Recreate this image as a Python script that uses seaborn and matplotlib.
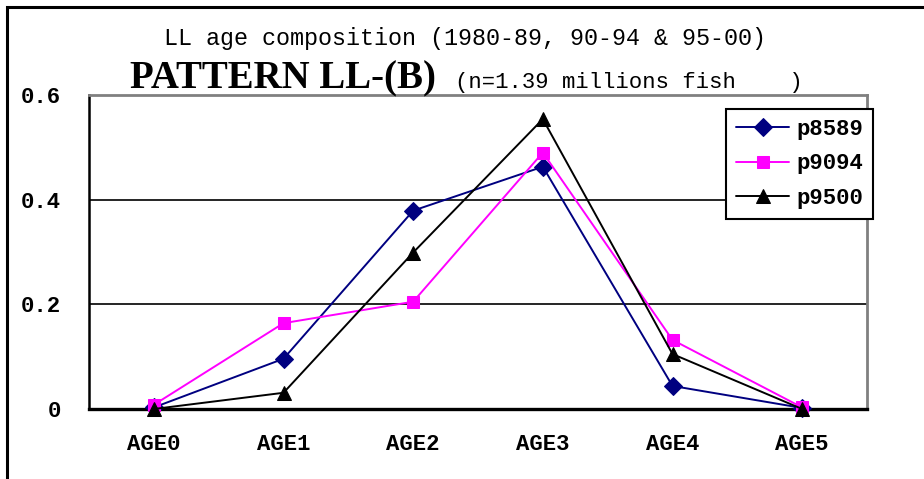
import matplotlib
matplotlib.use("Agg")
import matplotlib.pyplot as plt
from matplotlib.patches import Rectangle
import numpy as np
import pandas as pd
import seaborn as sns

# Age classes and the share of catch in each, per period
ages = ["AGE0", "AGE1", "AGE2", "AGE3", "AGE4", "AGE5"]
p8589 = [0.003, 0.096, 0.379, 0.463, 0.044, 0.002]
p9094 = [0.008, 0.164, 0.205, 0.490, 0.132, 0.003]
p9500 = [0.000, 0.031, 0.299, 0.554, 0.105, 0.000]
series_names = ["p8589", "p9094", "p9500"]
y_ticks = [0, 0.2, 0.4, 0.6]

df = pd.DataFrame({
    "pos": list(range(len(ages))) * 3,
    "share": p8589 + p9094 + p9500,
    "period": [n for n in series_names for _ in ages],
})

sns.set_style("white")
plt.rcParams["text.color"] = "black"
plt.rcParams["xtick.labelcolor"] = "black"
plt.rcParams["ytick.labelcolor"] = "black"
mono = ["Liberation Mono", "DejaVu Sans Mono"]
serif = ["Liberation Serif", "DejaVu Serif"]

fig = plt.figure(figsize=(9.24, 4.79), dpi=100)
ax = fig.add_axes([89 / 924, 1 - 409 / 479, (867 - 89) / 924, (409 - 95) / 479])

palette = {"p8589": "#000080", "p9094": "#FF00FF", "p9500": "#000000"}
markers = {"p8589": "D", "p9094": "s", "p9500": "^"}
sizes = {"p8589": 9, "p9094": 8, "p9500": 10}

for name in series_names:
    sub = df[df["period"] == name]
    sns.lineplot(data=sub, x="pos", y="share", ax=ax, color=palette[name],
                 marker=markers[name], markersize=sizes[name],
                 markeredgecolor=palette[name], markerfacecolor=palette[name],
                 linewidth=1.4, label=name, zorder=3, clip_on=False)

ax.set_xlim(-0.5, len(ages) - 0.5)
ax.set_ylim(0, 0.6)
ax.set_xlabel("")
ax.set_ylabel("")

# category boundaries carry the tick marks, centres carry the labels
ax.set_xticks(np.arange(-0.5, len(ages)), labels=[""] * (len(ages) + 1))
ax.set_xticks(np.arange(len(ages)), labels=ages, minor=True)
ax.tick_params(axis="x", which="major", direction="inout", length=16, width=1.5, color="black")
ax.tick_params(axis="x", which="minor", length=0, pad=18)
ax.set_yticks(y_ticks, labels=["0" if v == 0 else f"{v:.1f}" for v in y_ticks])
ax.tick_params(axis="y", direction="out", length=8, width=1.5, color="black", pad=12)
for lab in ax.get_xticklabels(minor=True) + ax.get_yticklabels():
    lab.set_fontfamily(mono)
    lab.set_fontweight("bold")
    lab.set_fontsize(16)
    lab.set_color("black")

for v in y_ticks[1:-1]:
    ax.axhline(v, color="black", linewidth=1.2, zorder=1)

ax.spines["left"].set_color("black")
ax.spines["left"].set_linewidth(1.8)
ax.spines["bottom"].set_color("black")
ax.spines["bottom"].set_linewidth(2.4)
ax.spines["top"].set_color("#808080")
ax.spines["top"].set_linewidth(2)
ax.spines["right"].set_color("#808080")
ax.spines["right"].set_linewidth(2)

leg = ax.legend(loc="upper left", bbox_to_anchor=(726 / 924, 1 - 109 / 479),
                bbox_transform=fig.transFigure, frameon=True, fancybox=False,
                handlelength=2.4, handletextpad=0.3, labelspacing=0.6,
                borderpad=0.45, borderaxespad=0,
                prop={"family": mono, "weight": "bold", "size": 16})
leg.get_frame().set_edgecolor("black")
leg.get_frame().set_linewidth(1.5)
leg.get_frame().set_facecolor("white")
leg.get_frame().set_alpha(1)
leg.set_zorder(10)
for t in leg.get_texts():
    t.set_color("black")

fig.text(0.503, 1 - 45 / 479, "LL age composition (1980-89, 90-94 & 95-00)",
         ha="center", va="baseline", fontsize=16.8, family=mono, color="black")
fig.text(130 / 924, 1 - 88 / 479, "PATTERN LL-(B)", ha="left", va="baseline",
         fontsize=28, fontweight="bold", family=serif, color="black")
fig.text(455 / 924, 1 - 88 / 479, "(n=1.39 millions fish    )", ha="left",
         va="baseline", fontsize=16, family=mono, color="black")

# outer frame, only its top and left edges fall inside the image
fig.add_artist(Rectangle((7 / 924, -0.2), 1.5, 1.2 - 7 / 479,
                         transform=fig.transFigure, fill=False,
                         edgecolor="black", linewidth=2.2))

fig.savefig("out.png", dpi=100)
